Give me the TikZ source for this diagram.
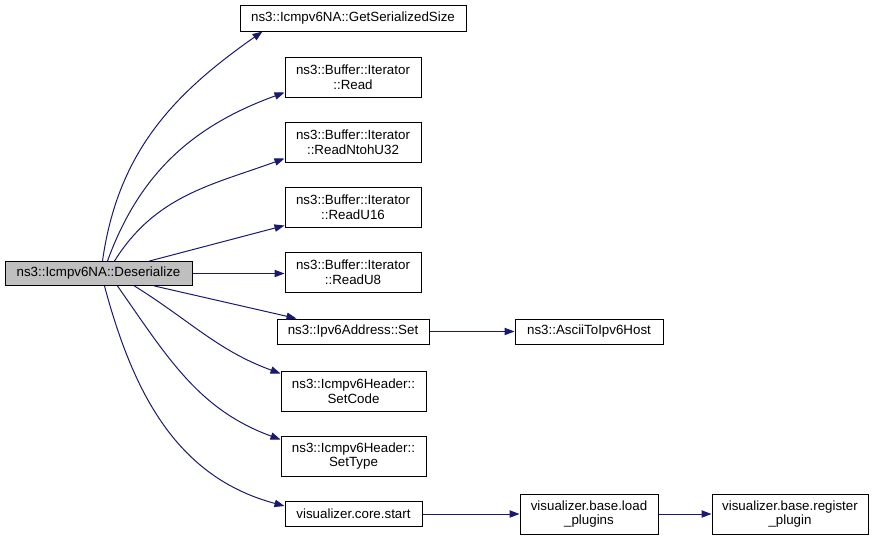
\documentclass[tikz,border=0pt]{standalone}
\usepackage{fontspec}
\setmainfont{Liberation Sans}
\usetikzlibrary{arrows.meta}
\definecolor{edgeblue}{HTML}{191970}
\begin{document}
\begin{tikzpicture}[x=0.75pt,y=-0.75pt,
  fn/.style={draw=black,line width=0.75pt,inner sep=0pt,align=center,font=\fontsize{10}{11}\selectfont},
  call/.style={draw=edgeblue,line width=0.75pt,-{Triangle[length=7.5pt,width=5.5pt]}}]

\useasboundingbox (0,0) rectangle (875,540);

\node[fn,fill=black!25,minimum width=140.25pt,minimum height=18pt] (root) at (98.5,273.5) {ns3::Icmpv6NA::Deserialize};

\node[fn,minimum width=169.5pt,minimum height=19.5pt] (size) at (353,18) {ns3::Icmpv6NA::GetSerializedSize};
\node[fn,minimum width=102pt,minimum height=30pt] (read) at (353,77) {ns3::Buffer::Iterator\\::Read};
\node[fn,minimum width=102pt,minimum height=30pt] (ntoh) at (353,142) {ns3::Buffer::Iterator\\::ReadNtohU32};
\node[fn,minimum width=102pt,minimum height=30pt] (u16) at (353,207) {ns3::Buffer::Iterator\\::ReadU16};
\node[fn,minimum width=102pt,minimum height=30pt] (u8) at (353,272.5) {ns3::Buffer::Iterator\\::ReadU8};
\node[fn,minimum width=114pt,minimum height=18.75pt] (set) at (353,331.5) {ns3::Ipv6Address::Set};
\node[fn,minimum width=108.75pt,minimum height=30pt] (code) at (353.5,391) {ns3::Icmpv6Header::\\SetCode};
\node[fn,minimum width=108.75pt,minimum height=30pt] (type) at (353.5,456) {ns3::Icmpv6Header::\\SetType};
\node[fn,minimum width=102.75pt,minimum height=18.75pt] (start) at (353.5,514) {visualizer.core.start};

%second level
\node[fn,minimum width=111pt,minimum height=18.75pt] (host) at (589,331.5) {ns3::AsciiToIpv6Host};
\node[fn,minimum width=103.5pt,minimum height=30pt] (load) at (589,514) {visualizer.base.load\\\_plugins};
\node[fn,minimum width=117pt,minimum height=30pt] (reg) at (790,514) {visualizer.base.register\\\_plugin};

\draw[call] ([shift={(98,0)}]root.north west) to[out=82,in=215] ([shift={(23,0)}]size.south west);
\draw[call] ([shift={(103,0)}]root.north west) to[out=70,in=200] ([shift={(0,-5)}]read.south west);
\draw[call] ([shift={(110,0)}]root.north west) to[out=58,in=200] ([shift={(0,-4)}]ntoh.south west);
\draw[call] ([shift={(145,0)}]root.north west) -- ([shift={(0,-2)}]u16.south west);
\draw[call] (root.east) -- (u8.west |- root.east);
\draw[call] ([shift={(150,0)}]root.south west) -- ([shift={(20,0)}]set.north west);
\draw[call] ([shift={(130,0)}]root.south west) to[out=-32,in=160] ([shift={(0,3)}]code.north west);
\draw[call] ([shift={(113,0)}]root.south west) to[out=-55,in=160] ([shift={(0,4)}]type.north west);
\draw[call] ([shift={(100,0)}]root.south west) to[out=-75,in=165] ([shift={(0,5)}]start.north west);

\draw[call] (set) -- (host);
\draw[call] (start) -- (load);
\draw[call] (load) -- (reg);
\end{tikzpicture}
\end{document}
